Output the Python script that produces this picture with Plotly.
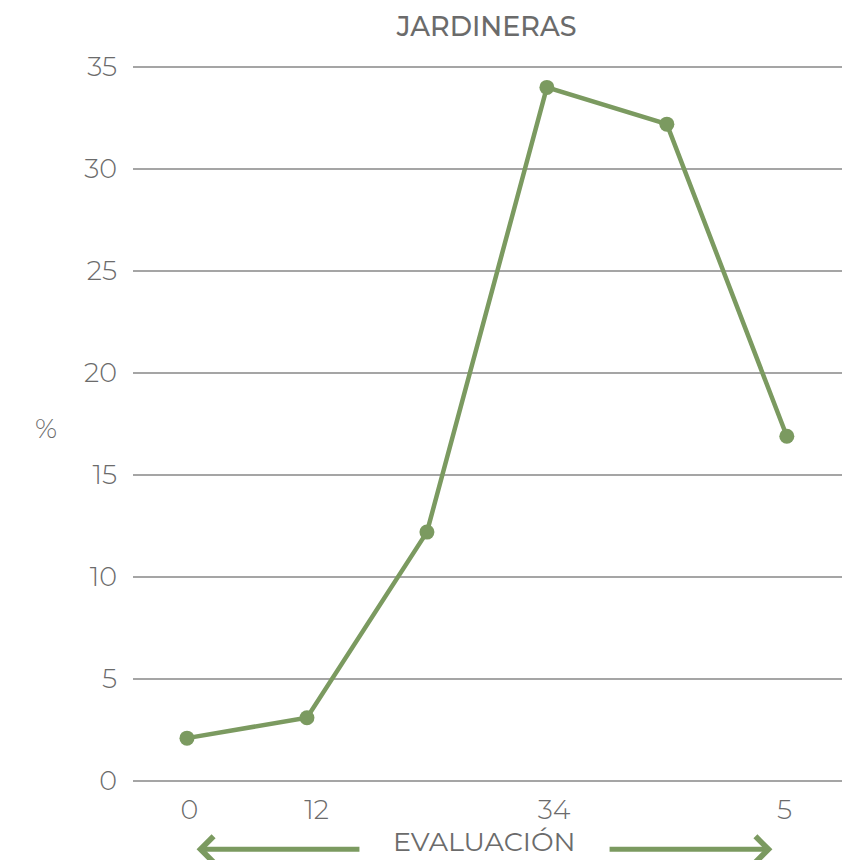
import plotly.graph_objects as go

x_pos = [0, 1, 2, 3, 4, 5]
values = [2.1, 3.1, 12.2, 34.0, 32.2, 16.9]
tick_text = ["0", "12", "34", "5"]
tick_pos = [0.02, 1.08, 3.06, 4.98]
y_ticks = [0, 5, 10, 15, 20, 25, 30, 35]

GREEN = "#7b9a60"
GREY = "#6b6b6b"
FONT = "Montserrat, Open Sans, sans-serif"

fig = go.Figure()
fig.add_trace(go.Scatter(
    x=x_pos, y=values, mode="lines+markers",
    line=dict(color=GREEN, width=4.5),
    marker=dict(color=GREEN, size=15),
    showlegend=False, hoverinfo="skip",
))

fig.update_layout(
    width=842, height=860,
    margin=dict(l=133, r=0, t=66, b=78),
    paper_bgcolor="white", plot_bgcolor="white",
    font=dict(family=FONT, color=GREY, size=27, weight=300),
    title=dict(text="JARDINERAS", x=0.578, xanchor="center", y=0.969, yanchor="middle",
               font=dict(size=27, color=GREY, family=FONT, weight=500)),
    xaxis=dict(range=[-0.45, 5.46], tickvals=tick_pos, ticktext=tick_text,
               showgrid=False, zeroline=False, showline=False, ticks="",
               ticklabelstandoff=9,
               tickfont=dict(size=27, color=GREY, weight=300)),
    yaxis=dict(range=[-0.05, 35.05], tickvals=y_ticks, showgrid=True,
               gridcolor="#a5a5a5", gridwidth=1.6, zeroline=False,
               showline=False, ticks="", ticklabelstandoff=15,
               tickfont=dict(size=27, color=GREY, weight=300)),
)

fig.add_annotation(text="%", xref="paper", yref="paper", x=-0.123, y=0.494,
                   showarrow=False, xanchor="center", yanchor="middle",
                   font=dict(size=27, color=GREY, weight=300))
fig.add_annotation(text="EVALUACIÓN", xref="x", yref="paper", x=2.48, y=-0.083,
                   showarrow=False, xanchor="center", yanchor="middle",
                   font=dict(size=27, color=GREY, weight=400))

# arrows
for head, tail in [(0.08, 1.45), (4.88, 3.51)]:
    fig.add_annotation(x=head, y=-0.094, xref="x", yref="paper",
                       ax=tail, ay=0, axref="x", ayref="pixel",
                       text="", showarrow=True, arrowhead=4, arrowsize=1.0,
                       arrowwidth=5, arrowcolor=GREEN)

fig.write_html("out.html")
